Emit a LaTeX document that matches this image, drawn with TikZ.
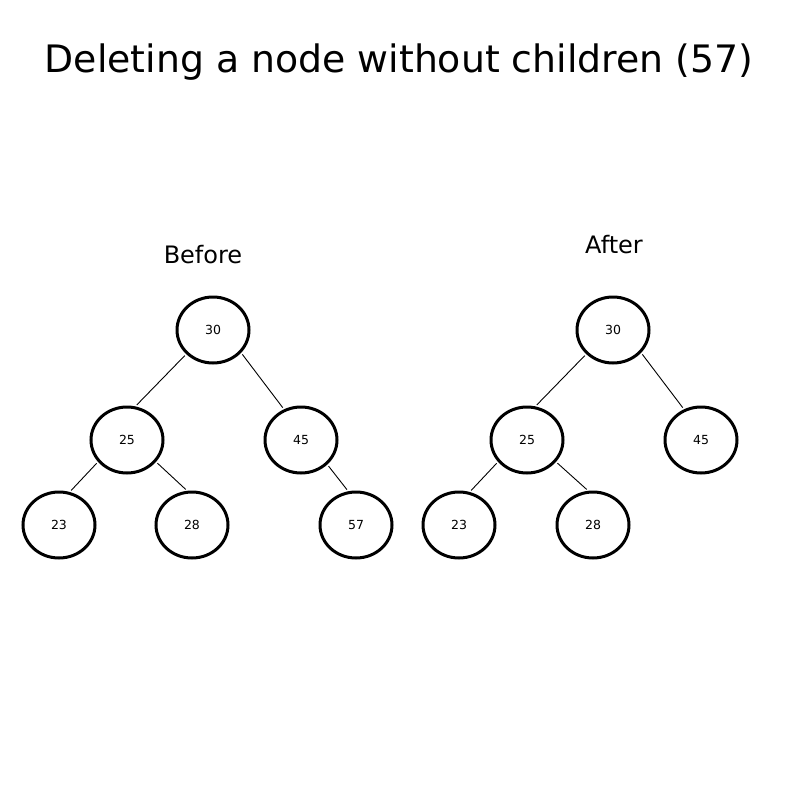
\documentclass[tikz,border=0pt]{standalone}
\usepackage{fontspec}
\setmainfont{DejaVu Sans}
\usepackage{tikz}
\usetikzlibrary{shapes.geometric}

\begin{document}
\begin{tikzpicture}[x=1pt, y=-1pt,
			elt/.style={ellipse,draw=black,line width=3pt,inner sep=0pt,minimum width=72pt,minimum height=66pt,font=\fontsize{12.5}{14}\selectfont},
			lnk/.style={black,line width=0.9pt,shorten <=2pt,shorten >=2pt},
			ttl/.style={font=\fontsize{37.8}{45}\selectfont}]
		\useasboundingbox (0,0) rectangle (800,800);
		\node (title) [ttl] at (399,62) {Deleting a node without children (57)};
		\node (before) [font=\fontsize{24}{29}\selectfont] at (203,255) {Before};
		\node (after) [font=\fontsize{24}{29}\selectfont] at (614,245) {After};
		% before
		\path 	(213,330) 	node 	(b30) [elt] {30}
		        (127,440) 	node 	(b25) [elt] {25}
		        (301,440) 	node 	(b45) [elt] {45}
		        (59,525) 	node 	(b23) [elt] {23}
		        (192,525) 	node 	(b28) [elt] {28}
		        (356,525) 	node 	(b57) [elt] {57};
		\draw [lnk] (b30.222) -- (b25.76);
		\draw [lnk] (b30.321) -- (b45.119);
		\draw [lnk] (b25.217) -- (b23.72);
		\draw [lnk] (b25.323) -- (b28.98);
		\draw [lnk] (b45.317) -- (b57.103);
		% after
		\path 	(613,330) 	node 	(a30) [elt] {30}
		        (527,440) 	node 	(a25) [elt] {25}
		        (701,440) 	node 	(a45) [elt] {45}
		        (459,525) 	node 	(a23) [elt] {23}
		        (593,525) 	node 	(a28) [elt] {28};
		\draw [lnk] (a30.222) -- (a25.76);
		\draw [lnk] (a30.321) -- (a45.119);
		\draw [lnk] (a25.217) -- (a23.72);
		\draw [lnk] (a25.323) -- (a28.98);
	\end{tikzpicture}
\end{document}
